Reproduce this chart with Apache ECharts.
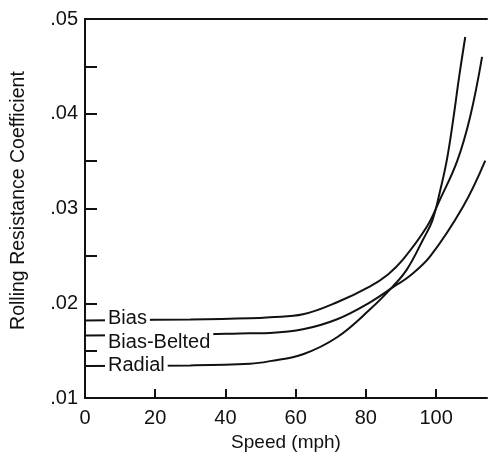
<!DOCTYPE html>
<html>
<head>
<meta charset="utf-8">
<script src="https://cdn.jsdelivr.net/npm/echarts@6/dist/echarts.min.js"></script>
<style>
html,body{margin:0;padding:0;background:#fff;}
#chart{width:498px;height:457px;}
</style>
</head>
<body>
<div id="chart"></div>
<script>
// ---- data ----
const seriesNames = ['Bias', 'Bias-Belted', 'Radial'];
const biasData = [[0,0.0182],[30,0.0183],[47,0.01842],[52.7,0.01853],[62.1,0.01884],[71.8,0.02011],[81.2,0.02179],[86.3,0.02305],[90.6,0.02463],[97.4,0.0281],[101.1,0.03095],[106,0.0350],[109.7,0.03968],[113.1,0.046]];
const beltedData = [[0,0.0166],[30,0.0167],[47,0.01684],[52.7,0.01688],[62.1,0.01726],[71.8,0.01832],[81.2,0.02011],[88.9,0.0220],[92,0.02274],[98.3,0.02495],[107.7,0.03021],[114,0.03505]];
const radialData = [[0,0.0134],[30,0.01345],[47,0.01362],[52.7,0.0139],[62.1,0.01463],[71.8,0.01642],[81.2,0.01937],[87.7,0.02179],[91.7,0.02358],[96.3,0.02674],[98.9,0.0287],[101.1,0.0318],[103,0.0350],[104.8,0.0392],[106.6,0.0440],[108.3,0.0481]];
const xTickValues = [20, 40, 60, 80, 100];
const xLabelValues = [0, 20, 40, 60, 80, 100];
const yTickValues = [0.015, 0.02, 0.025, 0.03, 0.035, 0.04, 0.045];
const yLabelValues = [0.01, 0.02, 0.03, 0.04, 0.05];
const xTitle = 'Speed (mph)';
const yTitle = 'Rolling Resistance Coefficient';

const FONT = '"Liberation Sans", Arial, Helvetica, sans-serif';
const INK = '#111';
const labelOffsets = [[0,-2],[0,7],[0,0]];

function makeSeries(name, data, idx) {
  return {
    name: name,
    type: 'line',
    data: data,
    smooth: 0.4,
    showSymbol: false,
    symbol: 'none',
    lineStyle: { color: INK, width: 2 },
    z: 2,
    markPoint: {
      symbol: 'circle',
      symbolSize: 0,
      z: 10,
      silent: true,
      animation: false,
      data: [{ coord: data[0], name: name }],
      label: {
        show: true,
        position: 'right',
        distance: 20,
        offset: labelOffsets[idx],
        formatter: name,
        color: INK,
        fontFamily: FONT,
        fontSize: 20,
        backgroundColor: '#fff',
        padding: [1, 3, 1, 3]
      }
    }
  };
}

const chart = echarts.init(document.getElementById('chart'), null, { renderer: 'canvas' });
chart.setOption({
  animation: false,
  backgroundColor: '#fff',
  grid: { left: 85, right: 11, top: 19, bottom: 58 },
  xAxis: [{
    type: 'value',
    min: 0, max: 114.5, interval: 20,
    name: xTitle,
    nameLocation: 'middle',
    nameGap: 32,
    nameTextStyle: { fontFamily: FONT, fontSize: 19, color: INK },
    axisLine: { show: true, lineStyle: { color: INK, width: 2 } },
    axisTick: { show: true, inside: true, length: 9, customValues: xTickValues, lineStyle: { color: INK, width: 2 } },
    axisLabel: { customValues: xLabelValues, fontFamily: FONT, fontSize: 20, color: INK, margin: 10 },
    splitLine: { show: false }
  }, {
    type: 'value',
    position: 'top',
    min: 0, max: 114.5,
    axisLine: { show: true, lineStyle: { color: INK, width: 2 } },
    axisTick: { show: false },
    axisLabel: { show: false },
    splitLine: { show: false }
  }],
  yAxis: {
    type: 'value',
    min: 0.01, max: 0.05,
    name: yTitle,
    nameLocation: 'middle',
    nameGap: 56,
    nameRotate: 90,
    nameTextStyle: { fontFamily: FONT, fontSize: 19.5, color: INK, padding: [0, 0, 0, 16] },
    axisLine: { show: true, lineStyle: { color: INK, width: 2 } },
    axisTick: { show: true, inside: true, length: 12, customValues: yTickValues, lineStyle: { color: INK, width: 2 } },
    axisLabel: {
      customValues: yLabelValues,
      fontFamily: FONT, fontSize: 20, color: INK, margin: 7,
      formatter: function (v) { return v.toFixed(2).replace(/^0/, ''); }
    },
    splitLine: { show: false }
  },
  series: [
    makeSeries(seriesNames[0], biasData, 0),
    makeSeries(seriesNames[1], beltedData, 1),
    makeSeries(seriesNames[2], radialData, 2)
  ]
});
</script>
</body>
</html>
